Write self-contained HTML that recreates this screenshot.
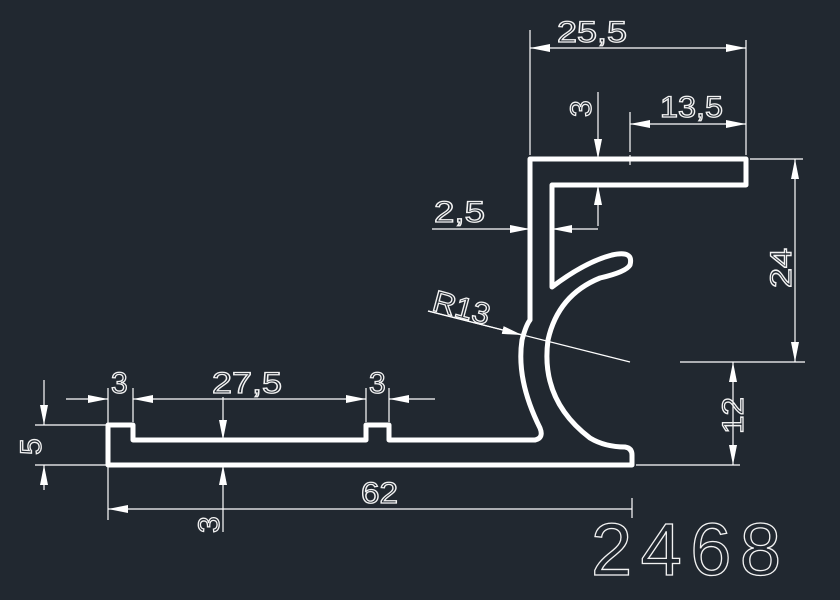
<!DOCTYPE html>
<html><head><meta charset="utf-8"><style>
html,body{margin:0;padding:0;background:#212830;}
svg{display:block}
text{font-family:"Liberation Sans",sans-serif;fill:none;stroke:#f2f2f2;stroke-width:1.3}
</style></head><body>
<svg width="840" height="600" viewBox="0 0 840 600" xmlns="http://www.w3.org/2000/svg">
<rect width="840" height="600" fill="#212830"/>
<defs>
<marker id="a" viewBox="0 0 20 8" refX="20" refY="4" markerWidth="20" markerHeight="8" markerUnits="userSpaceOnUse" orient="auto-start-reverse"><path d="M0,0 L20,4 L0,8Z" fill="#fff"/></marker>
</defs>
<g fill="none" stroke="#fff" stroke-width="5" stroke-linejoin="round">
<path d="M108,425 L133,425 L133,440 L366,440 L366,425 L389,425 L389,440 L535,440 Q544,438 540,428 Q516,380 522,340 Q526,325 530,320 L530,159 L746,159 L746,185 L552,185 L552,287 Q585,262 612,255 Q634,250 630,265 Q626,272 600,278 Q558,295 548,340 Q540,400 590,438 Q605,447 625,447 Q632,448 632,455 L632,465 L108,465 Z"/>
</g>
<g stroke="#fff" stroke-width="1.2" fill="none">
<line x1="530" y1="30" x2="530" y2="155"/>
<line x1="746" y1="40" x2="746" y2="155"/>
<line x1="530" y1="48" x2="746" y2="48" marker-start="url(#a)" marker-end="url(#a)"/>
<line x1="630" y1="112" x2="630" y2="165" stroke-dasharray="40 3 2 3"/>
<line x1="630" y1="124" x2="746" y2="124" marker-start="url(#a)" marker-end="url(#a)"/>
<line x1="598" y1="92" x2="598" y2="159" marker-end="url(#a)"/>
<line x1="598" y1="226" x2="598" y2="185" marker-end="url(#a)"/>
<line x1="432" y1="229" x2="530" y2="229" marker-end="url(#a)"/>
<line x1="598" y1="229" x2="552" y2="229" marker-end="url(#a)"/>
<line x1="428" y1="311" x2="630" y2="362"/>
<line x1="428" y1="311" x2="522" y2="335" marker-end="url(#a)"/>
<line x1="750" y1="159" x2="803" y2="159"/>
<line x1="680" y1="362" x2="805" y2="362"/>
<line x1="795" y1="159" x2="795" y2="362" marker-start="url(#a)" marker-end="url(#a)"/>
<line x1="636" y1="465" x2="740" y2="465"/>
<line x1="733" y1="362" x2="733" y2="465" marker-start="url(#a)" marker-end="url(#a)"/>
<line x1="35" y1="425" x2="106" y2="425"/>
<line x1="35" y1="465" x2="106" y2="465"/>
<line x1="44" y1="380" x2="44" y2="425" marker-end="url(#a)"/>
<line x1="44" y1="490" x2="44" y2="465" marker-end="url(#a)"/>
<line x1="108" y1="388" x2="108" y2="520"/>
<line x1="133" y1="388" x2="133" y2="422"/>
<line x1="366" y1="388" x2="366" y2="422"/>
<line x1="389" y1="388" x2="389" y2="422"/>
<line x1="66" y1="399" x2="108" y2="399" marker-end="url(#a)"/>
<line x1="155" y1="399" x2="133" y2="399" marker-end="url(#a)"/>
<line x1="155" y1="399" x2="366" y2="399" marker-end="url(#a)"/>
<line x1="435" y1="399" x2="389" y2="399" marker-end="url(#a)"/>
<line x1="223" y1="397" x2="223" y2="440" marker-end="url(#a)"/>
<line x1="223" y1="532" x2="223" y2="465" marker-end="url(#a)"/>
<line x1="632" y1="498" x2="632" y2="518"/>
<line x1="632" y1="509" x2="108" y2="509" marker-end="url(#a)"/>
</g>
<g font-size="30" lengthAdjust="spacingAndGlyphs">
<text x="557" y="42" textLength="70" lengthAdjust="spacingAndGlyphs">25,5</text>
<text x="660" y="117" textLength="63" lengthAdjust="spacingAndGlyphs">13,5</text>
<text x="434" y="222" textLength="51" lengthAdjust="spacingAndGlyphs">2,5</text>
<text x="0" y="0" transform="translate(431,310) rotate(15)" textLength="58" lengthAdjust="spacingAndGlyphs">R13</text>
<text x="111" y="393">3</text>
<text x="212" y="393" textLength="70" lengthAdjust="spacingAndGlyphs">27,5</text>
<text x="369" y="393">3</text>
<text x="361" y="503" textLength="37" lengthAdjust="spacingAndGlyphs">62</text>
<text x="0" y="0" transform="translate(591,117) rotate(-90)">3</text>
<text x="0" y="0" transform="translate(791,288) rotate(-90)" textLength="40" lengthAdjust="spacingAndGlyphs">24</text>
<text x="0" y="0" transform="translate(743,434) rotate(-90)" textLength="37" lengthAdjust="spacingAndGlyphs">12</text>
<text x="0" y="0" transform="translate(41,455) rotate(-90)">5</text>
<text x="0" y="0" transform="translate(219,533) rotate(-90)">3</text>
</g>
<text x="591" y="575" font-size="74" textLength="190" lengthAdjust="spacing" stroke-width="1.6">2468</text>
</svg>
</body></html>
